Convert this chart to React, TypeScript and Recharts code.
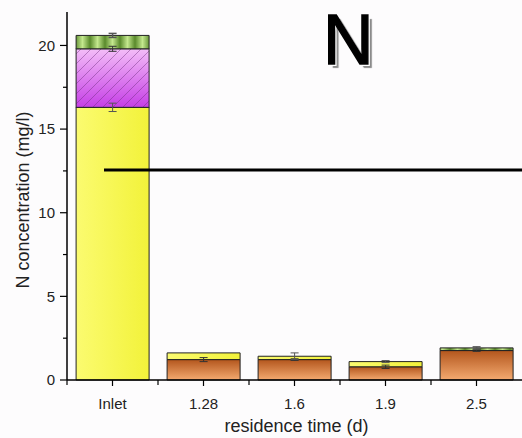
import React from "react"
import { BarChart, Bar, XAxis, YAxis, ErrorBar, ReferenceLine, Label } from "recharts"

const categories = ["Inlet", "1.28", "1.6", "1.9", "2.5"]

// stacked parts, bottom to top
const orange = [0, 1.22, 1.22, 0.79, 1.76]
const yellow = [16.3, 0.4, 0.2, 0.31, 0]
const purple = [3.5, 0, 0, 0, 0]
const green = [0.8, 0, 0, 0, 0.16]

const orangeErr = [null, 0.12, 0.05, 0.1, 0.05]
const yellowErr = [0.25, null, 0.2, 0.06, null]
const purpleErr = [0.15, null, null, null, null]
const greenErr = [0.12, null, null, null, 0.06]

const yTicks = [0, 2.5, 5, 7.5, 10, 12.5, 15, 17.5, 20]
const thresholdLine = 12.55

const data = categories.map((name, i) => ({
  name,
  orange: orange[i],
  yellow: yellow[i],
  purple: purple[i],
  green: green[i],
  orangeErr: orangeErr[i],
  yellowErr: yellowErr[i],
  purpleErr: purpleErr[i],
  greenErr: greenErr[i],
}))

const FONT = "'Liberation Sans', Arial, sans-serif"

function YTick(props: any) {
  const { x, y, payload } = props
  const major = payload.value % 5 === 0
  return (
    <g>
      <line x1={x - (major ? 7 : 4)} x2={x} y1={y} y2={y} stroke="#000" strokeWidth={1.2} />
      {major && (
        <text x={x - 12} y={y + 5.3} textAnchor="end" fontSize={15} fontFamily={FONT} fill="#222">
          {payload.value}
        </text>
      )}
    </g>
  )
}

function XTick(props: any) {
  const { x, y, payload } = props
  const half = typeof payload.offset === "number" && payload.offset > 0 ? payload.offset : 45.5
  return (
    <g>
      <line x1={x} x2={x} y1={y} y2={y + 6} stroke="#000" strokeWidth={1.2} />
      <line x1={x - half} x2={x - half} y1={y} y2={y + 5} stroke="#000" strokeWidth={1.2} />
      <text x={x} y={y + 29} textAnchor="middle" fontSize={15} fontFamily={FONT} fill="#222">
        {payload.value}
      </text>
    </g>
  )
}

function PurpleShape(props: any) {
  const { x, y, width, height } = props
  if (!height || height <= 0) return null
  return (
    <g>
      <rect x={x} y={y} width={width} height={height} fill="url(#purpleGrad)" />
      <rect x={x} y={y} width={width} height={height} fill="url(#hatch)" stroke="#222" strokeWidth={1} />
    </g>
  )
}

function ThresholdShape(props: any) {
  const { x1, x2, y1 } = props
  if (typeof y1 !== "number") return null
  // line starts around the middle of the inlet bar
  return <line x1={x1 + 37} x2={x2} y1={y1} y2={y1} stroke="#000" strokeWidth={3} />
}

export default function App() {
  return (
    <div style={{ position: "absolute", left: 0, top: 0, width: 522, height: 438, background: "#fdfcfd" }}>
      <BarChart
        width={522}
        height={438}
        data={data}
        margin={{ top: 12, right: 0, left: 0, bottom: 0 }}
        barCategoryGap="10%"
      >
        <defs>
          <linearGradient id="orangeGrad" x1="0" y1="0" x2="0" y2="1">
            <stop offset="0%" stopColor="#b3561d" />
            <stop offset="100%" stopColor="#f4aa70" />
          </linearGradient>
          <linearGradient id="yellowGrad" x1="0" y1="0" x2="1" y2="0">
            <stop offset="0%" stopColor="#fbfb70" />
            <stop offset="100%" stopColor="#f2f23a" />
          </linearGradient>
          <linearGradient id="purpleGrad" x1="0" y1="0" x2="0" y2="1">
            <stop offset="0%" stopColor="#f3bdf8" />
            <stop offset="100%" stopColor="#c63fe6" />
          </linearGradient>
          <pattern id="hatch" patternUnits="userSpaceOnUse" width="10" height="10">
            <line x1="0" y1="10" x2="10" y2="0" stroke="#6a2a7a" strokeOpacity={0.55} strokeWidth={0.8} />
            <line x1="-1" y1="1" x2="1" y2="-1" stroke="#6a2a7a" strokeOpacity={0.55} strokeWidth={0.8} />
            <line x1="9" y1="11" x2="11" y2="9" stroke="#6a2a7a" strokeOpacity={0.55} strokeWidth={0.8} />
          </pattern>
          <linearGradient id="greenStripe" x1="0" y1="0" x2="1" y2="0">
            <stop offset="0%" stopColor="#5a8a2c" />
            <stop offset="50%" stopColor="#c4e88e" />
            <stop offset="100%" stopColor="#5a8a2c" />
          </linearGradient>
          <pattern id="greenPat" patternUnits="userSpaceOnUse" width="15" height="30">
            <rect x="0" y="0" width="15" height="30" fill="url(#greenStripe)" />
          </pattern>
        </defs>

        <XAxis
          dataKey="name"
          height={58}
          tickSize={0}
          tickMargin={0}
          tickLine={false}
          interval={0}
          tick={<XTick />}
          axisLine={{ stroke: "#000", strokeWidth: 1.5 }}
        >
          <Label
            content={(p: any) => {
              const vb = p.viewBox || {}
              return (
                <text
                  x={vb.x + vb.width / 2 + 2}
                  y={432}
                  textAnchor="middle"
                  fontSize={18}
                  fontFamily={FONT}
                  fill="#222"
                >
                  residence time (d)
                </text>
              )
            }}
          />
        </XAxis>
        <YAxis
          width={67}
          domain={[0, 22]}
          ticks={yTicks}
          interval={0}
          tickSize={0}
          tickMargin={0}
          tickLine={false}
          tick={<YTick />}
          axisLine={{ stroke: "#000", strokeWidth: 1.5 }}
        >
          <Label
            content={(p: any) => {
              const vb = p.viewBox || {}
              const cy = vb.y + vb.height / 2 + 4
              return (
                <text
                  x={29}
                  y={cy}
                  transform={`rotate(-90 29 ${cy})`}
                  textAnchor="middle"
                  fontSize={18}
                  fontFamily={FONT}
                  fill="#222"
                >
                  N concentration (mg/l)
                </text>
              )
            }}
          />
        </YAxis>

        <Bar dataKey="orange" stackId="n" fill="url(#orangeGrad)" stroke="#222" strokeWidth={1} isAnimationActive={false}>
          <ErrorBar dataKey="orangeErr" width={4} stroke="#333" strokeWidth={1} />
        </Bar>
        <Bar dataKey="yellow" stackId="n" fill="url(#yellowGrad)" stroke="#222" strokeWidth={1} isAnimationActive={false}>
          <ErrorBar dataKey="yellowErr" width={4} stroke="#555" strokeWidth={1} />
        </Bar>
        <Bar dataKey="purple" stackId="n" shape={<PurpleShape />} isAnimationActive={false}>
          <ErrorBar dataKey="purpleErr" width={4} stroke="#333" strokeWidth={1} />
        </Bar>
        <Bar dataKey="green" stackId="n" fill="url(#greenPat)" stroke="#222" strokeWidth={1} isAnimationActive={false}>
          <ErrorBar dataKey="greenErr" width={4} stroke="#555" strokeWidth={1.5} />
        </Bar>

        <ReferenceLine y={thresholdLine} shape={<ThresholdShape />} />
      </BarChart>

      <div
        style={{
          position: "absolute",
          left: 323,
          top: 4.5,
          fontFamily: FONT,
          fontSize: 70,
          lineHeight: 1,
          color: "#000",
          WebkitTextStroke: "1.5px #000",
          textShadow: "2px 2px 0 #fff, 4px 4px 1px #8a8a8a",
        }}
      >
        N
      </div>
    </div>
  )
}
